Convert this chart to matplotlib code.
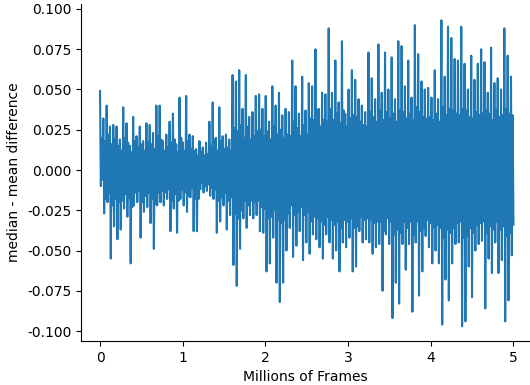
import numpy as np
import matplotlib
matplotlib.use("Agg")
import matplotlib.pyplot as plt

# Positive excursions, one per step of ~0.04 M frames
upper = [0.049, 0.032, 0.040, 0.027, 0.028, 0.027, 0.019, 0.039, 0.029, 0.015,
         0.033, 0.021, 0.027, 0.018, 0.029, 0.028, 0.023, 0.040, 0.040, 0.018,
         0.022, 0.030, 0.035, 0.016, 0.045, 0.017, 0.046, 0.022, 0.021, 0.013,
         0.018, 0.014, 0.017, 0.030, 0.042, 0.020, 0.039, 0.021, 0.022, 0.019,
         0.059, 0.055, 0.062, 0.038, 0.059, 0.033, 0.036, 0.046, 0.047, 0.038,
         0.046, 0.030, 0.052, 0.040, 0.048, 0.034, 0.038, 0.036, 0.068, 0.052,
         0.035, 0.058, 0.037, 0.054, 0.052, 0.075, 0.038, 0.048, 0.047, 0.088,
         0.048, 0.068, 0.042, 0.080, 0.035, 0.050, 0.062, 0.056, 0.044, 0.040,
         0.036, 0.073, 0.057, 0.044, 0.078, 0.048, 0.073, 0.050, 0.070, 0.044,
         0.080, 0.077, 0.052, 0.068, 0.045, 0.090, 0.072, 0.055, 0.050, 0.051,
         0.045, 0.062, 0.044, 0.093, 0.058, 0.089, 0.082, 0.069, 0.068, 0.089,
         0.066, 0.050, 0.071, 0.056, 0.066, 0.075, 0.067, 0.048, 0.076, 0.054,
         0.057, 0.050, 0.088, 0.071, 0.058]

# Negative excursions, interleaved with the above
lower = [-0.010, -0.027, -0.020, -0.055, -0.035, -0.043, -0.037, -0.024, -0.029, -0.058,
         -0.022, -0.020, -0.042, -0.026, -0.023, -0.033, -0.049, -0.022, -0.020, -0.022,
         -0.018, -0.038, -0.024, -0.039, -0.018, -0.022, -0.026, -0.017, -0.038, -0.038,
         -0.012, -0.014, -0.013, -0.016, -0.018, -0.039, -0.032, -0.022, -0.037, -0.028,
         -0.059, -0.072, -0.049, -0.030, -0.036, -0.028, -0.030, -0.028, -0.038, -0.039,
         -0.063, -0.058, -0.042, -0.070, -0.082, -0.070, -0.050, -0.036, -0.054, -0.047,
         -0.038, -0.056, -0.045, -0.052, -0.040, -0.043, -0.048, -0.055, -0.040, -0.045,
         -0.055, -0.050, -0.063, -0.045, -0.048, -0.042, -0.063, -0.060, -0.038, -0.045,
         -0.043, -0.045, -0.052, -0.048, -0.046, -0.075, -0.040, -0.046, -0.092, -0.070,
         -0.083, -0.046, -0.062, -0.046, -0.088, -0.045, -0.078, -0.063, -0.041, -0.048,
         -0.058, -0.050, -0.058, -0.096, -0.068, -0.081, -0.058, -0.046, -0.045, -0.097,
         -0.094, -0.060, -0.079, -0.050, -0.046, -0.044, -0.086, -0.055, -0.064, -0.045,
         -0.064, -0.056, -0.094, -0.081, -0.053]

# Smaller inner swings that make up the dense core
core_top = [0.020, 0.018, 0.022, 0.016, 0.019, 0.015, 0.012, 0.020, 0.017, 0.011,
            0.018, 0.014, 0.016, 0.012, 0.017, 0.016, 0.013, 0.021, 0.019, 0.012,
            0.014, 0.017, 0.019, 0.011, 0.020, 0.012, 0.018, 0.013, 0.012, 0.009,
            0.011, 0.009, 0.010, 0.015, 0.019, 0.012, 0.018, 0.013, 0.014, 0.012,
            0.026, 0.024, 0.028, 0.020, 0.027, 0.019, 0.021, 0.024, 0.025, 0.021,
            0.024, 0.019, 0.027, 0.022, 0.025, 0.020, 0.022, 0.021, 0.030, 0.026,
            0.021, 0.028, 0.022, 0.032, 0.031, 0.037, 0.027, 0.031, 0.030, 0.038,
            0.031, 0.035, 0.029, 0.037, 0.027, 0.032, 0.034, 0.033, 0.030, 0.028,
            0.027, 0.036, 0.033, 0.030, 0.037, 0.031, 0.036, 0.032, 0.035, 0.030,
            0.037, 0.036, 0.032, 0.035, 0.031, 0.039, 0.036, 0.033, 0.032, 0.033,
            0.031, 0.035, 0.030, 0.039, 0.034, 0.038, 0.037, 0.035, 0.034, 0.038,
            0.037, 0.033, 0.032, 0.036, 0.034, 0.035, 0.037, 0.035, 0.031, 0.037,
            0.033, 0.034, 0.038, 0.035, 0.034]

core_bottom = [-0.006, -0.018, -0.014, -0.022, -0.018, -0.020, -0.019, -0.015, -0.017, -0.023,
               -0.014, -0.013, -0.020, -0.016, -0.014, -0.018, -0.021, -0.014, -0.013, -0.014,
               -0.012, -0.019, -0.015, -0.019, -0.012, -0.014, -0.016, -0.011, -0.018, -0.018,
               -0.008, -0.010, -0.009, -0.011, -0.012, -0.019, -0.017, -0.014, -0.019, -0.017,
               -0.027, -0.030, -0.025, -0.019, -0.022, -0.019, -0.020, -0.019, -0.023, -0.024,
               -0.030, -0.029, -0.025, -0.031, -0.033, -0.031, -0.027, -0.022, -0.028, -0.026,
               -0.023, -0.028, -0.026, -0.032, -0.029, -0.030, -0.032, -0.034, -0.029, -0.031,
               -0.034, -0.032, -0.036, -0.031, -0.032, -0.030, -0.036, -0.035, -0.029, -0.031,
               -0.030, -0.031, -0.033, -0.032, -0.032, -0.038, -0.030, -0.032, -0.040, -0.037,
               -0.039, -0.032, -0.036, -0.032, -0.040, -0.032, -0.038, -0.036, -0.031, -0.033,
               -0.036, -0.034, -0.036, -0.042, -0.037, -0.039, -0.036, -0.033, -0.032, -0.042,
               -0.041, -0.036, -0.039, -0.034, -0.033, -0.032, -0.039, -0.035, -0.037, -0.032,
               -0.037, -0.035, -0.041, -0.039, -0.034]

x_start, x_end = 0.0, 5.0  # millions of frames

n = len(upper)
values = np.empty(4 * n)
values[0::4] = upper
values[1::4] = lower
values[2::4] = core_top
values[3::4] = core_bottom
frames = np.linspace(x_start, x_end, len(values))

fig = plt.figure(figsize=(5.30, 3.85), dpi=100)
ax = fig.add_axes([81 / 530, 1 - 341 / 385, 1 - 81 / 530, (341 - 4) / 385])
ax.plot(frames, values, color="#1f77b4", linewidth=1.5)

ax.set_xlim(-0.23, 5.2)
ax.set_ylim(-0.1062, 0.1031)
ax.set_xticks([0, 1, 2, 3, 4, 5])
ax.set_yticks([-0.1, -0.075, -0.05, -0.025, 0.0, 0.025, 0.05, 0.075, 0.1])
ax.yaxis.set_major_formatter(matplotlib.ticker.FormatStrFormatter("%.3f"))
ax.spines["top"].set_visible(False)
ax.spines["right"].set_visible(False)
ax.set_xlabel("Millions of Frames", fontsize=10)
ax.set_ylabel("median - mean difference", fontsize=10)
ax.tick_params(labelsize=10)

fig.savefig("out.png", dpi=100)
